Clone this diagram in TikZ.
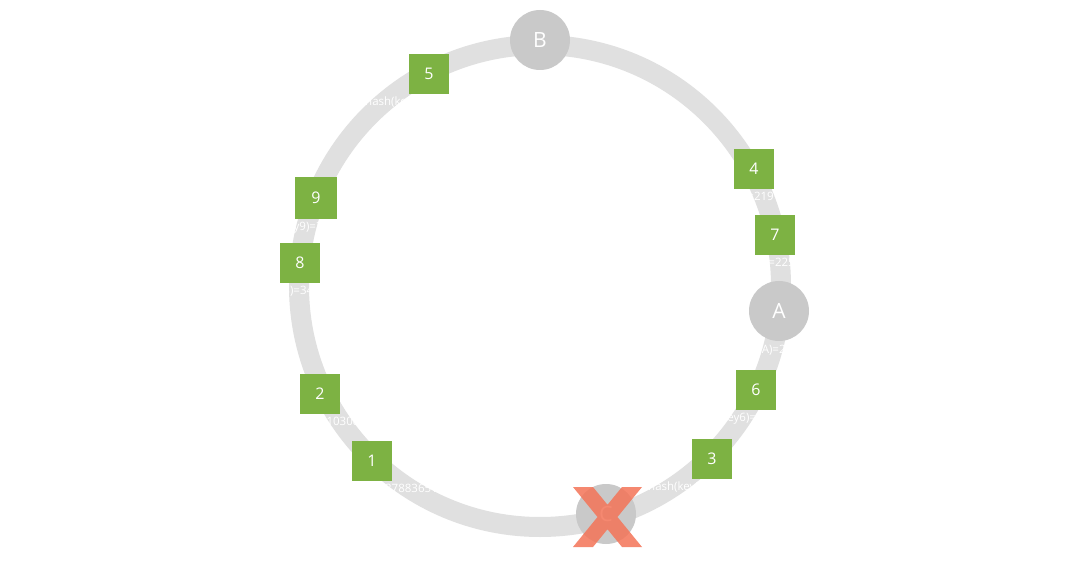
\documentclass[tikz,border=0pt]{standalone}
\usepackage{fontspec}
\setmainfont{Open Sans}
\definecolor{ringgray}{RGB}{224,224,224}
\definecolor{nodegray}{RGB}{201,201,201}
\definecolor{keygreen}{RGB}{125,178,67}
\definecolor{xred}{RGB}{244,116,88}
\newcommand\hlbl[2]{\makebox[0pt][r]{#1}\makebox[0pt][l]{#2}}
\begin{document}
\begin{tikzpicture}[x=1pt,y=-1pt,
  ring/.style={draw=ringgray, line width=20pt},
  server/.style={circle, fill=nodegray, minimum size=60pt, inner sep=0pt, text=white, font=\fontsize{21}{24}\selectfont},
  keybox/.style={fill=keygreen, minimum size=40pt, inner sep=0pt, text=white, font=\fontsize{16}{18}\selectfont},
  hashlbl/.style={text=white, inner sep=0pt, font=\fontsize{11.5}{13}\selectfont},
  cross/.style={fill=xred, fill opacity=0.85}]
\useasboundingbox (0,0) rectangle (1080,580);
\fill[white] (0,0) rectangle (1080,580);
\draw[ring] (540,286) circle[radius=241];

% servers
\node[server] (B) at (540,40) {B};
\node[server] (A) at (779,311) {A};
\node[server] (C) at (606,514) {C};
\node[hashlbl] (lA) at (779,350) {\hlbl{hash(nodeA)=}{2401753968}};

% keys
\node[keybox] (k5) at (429,74) {5};
\node[keybox] (k4) at (754,169) {4};
\node[keybox] (k7) at (775,235) {7};
\node[keybox, minimum size=42pt] (k9) at (316,198) {9};
\node[keybox] (k8) at (300,263) {8};
\node[keybox] (k2) at (320,394) {2};
\node[keybox] (k1) at (372,461) {1};
\node[keybox] (k6) at (756,390) {6};
\node[keybox] (k3) at (712,459) {3};

\node[hashlbl] (l5) at (429,103) {\hlbl{hash(key5)=}{3920416578}};
\node[hashlbl] (l4) at (754,198) {\hlbl{hash(key4)=}{2191832045}};
\node[hashlbl] (l7) at (775,264) {\hlbl{hash(key7)=}{2253186409}};
\node[hashlbl] (l9) at (316,228) {\hlbl{hash(key9)=}{3612097483}};
\node[hashlbl] (l8) at (300,292) {\hlbl{hash(key8)=}{3458216790}};
\node[hashlbl] (l2) at (320,423) {\hlbl{hash(key2)=}{1103084621}};
\node[hashlbl] (l1) at (372,490) {\hlbl{hash(key1)=}{2437883651}};
\node[hashlbl] (l6) at (756,419) {\hlbl{hash(key6)=}{2577034128}};
\node[hashlbl] (l3) at (712,488) {\hlbl{hash(key3)=}{2869413706}};

% cross over C
\fill[cross] (573,487) -- (593,487) -- (642,547) -- (622,547) -- cycle
             (622,487) -- (642,487) -- (593,547) -- (573,547) -- cycle;
\end{tikzpicture}
\end{document}
